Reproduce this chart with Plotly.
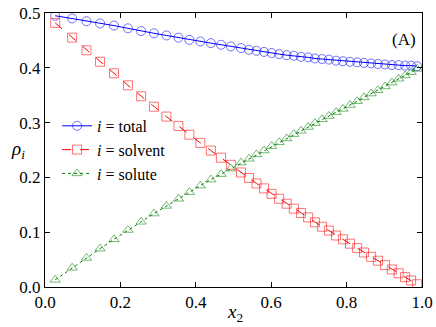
"""
density profiles vs solute fraction x2
"""
import plotly.graph_objs as go

x2 = [0.027, 0.072, 0.110, 0.146, 0.183, 0.220, 0.255, 0.289, 0.322, 0.354,
      0.383, 0.412, 0.440, 0.467, 0.493, 0.520, 0.541, 0.561, 0.581, 0.601,
      0.621, 0.641, 0.660, 0.679, 0.698, 0.716, 0.735, 0.753, 0.772, 0.790,
      0.809, 0.828, 0.846, 0.865, 0.883, 0.902, 0.920, 0.938, 0.955, 0.971,
      0.987]

rho_total = [0.495, 0.490, 0.485, 0.481, 0.477, 0.472, 0.467, 0.463, 0.459, 0.455,
             0.451, 0.448, 0.445, 0.442, 0.439, 0.436, 0.433, 0.431, 0.429, 0.427,
             0.425, 0.423, 0.422, 0.420, 0.419, 0.417, 0.416, 0.415, 0.413, 0.412,
             0.411, 0.410, 0.409, 0.408, 0.407, 0.406, 0.405, 0.405, 0.404, 0.404,
             0.403]

rho_solvent = [0.482, 0.455, 0.432, 0.411, 0.390, 0.368, 0.348, 0.329, 0.311, 0.294,
               0.278, 0.263, 0.249, 0.236, 0.223, 0.209, 0.199, 0.189, 0.180, 0.170,
               0.161, 0.152, 0.143, 0.135, 0.127, 0.118, 0.110, 0.103, 0.094, 0.087,
               0.079, 0.071, 0.063, 0.055, 0.048, 0.040, 0.032, 0.025, 0.018, 0.012,
               0.005]

rho_solute = [0.013, 0.035, 0.053, 0.070, 0.087, 0.104, 0.119, 0.134, 0.148, 0.161,
              0.173, 0.185, 0.196, 0.206, 0.216, 0.227, 0.234, 0.242, 0.249, 0.257,
              0.264, 0.271, 0.279, 0.285, 0.292, 0.299, 0.306, 0.312, 0.319, 0.325,
              0.332, 0.339, 0.346, 0.353, 0.359, 0.366, 0.373, 0.380, 0.386, 0.392,
              0.398]

x_ticks = [0.0, 0.2, 0.4, 0.6, 0.8, 1.0]
y_ticks = [0.0, 0.1, 0.2, 0.3, 0.4, 0.5]

SERIF = "Liberation Serif"

series = [
    ("<i>i</i> = total", rho_total, "#0000ff", "rgba(0,0,255,0.55)", "solid", "circle-open"),
    ("<i>i</i> = solvent", rho_solvent, "#ff0000", "rgba(255,0,0,0.55)", "dash", "square-open"),
    ("<i>i</i> = solute", rho_solute, "#008000", "rgba(0,128,0,0.55)", "dot", "triangle-up-open"),
]

fig = go.Figure()
for name, y, color, mcolor, dash, symbol in series:
    fig.add_trace(go.Scatter(
        x=x2, y=y, name=name,
        mode='lines+markers',
        line=dict(color=color, width=1, dash=dash),
        marker=dict(symbol=symbol, size=9, color=mcolor, line=dict(width=1, color=mcolor)),
    ))

axis_style = dict(
    showgrid=False, zeroline=False, automargin=False,
    showline=True, linecolor='black', linewidth=1, mirror='ticks',
    ticks='inside', ticklen=5, tickcolor='black',
    tickfont=dict(family=SERIF, size=17, color='black'),
)
fig.update_xaxes(range=[0, 1], tickvals=x_ticks, ticktext=[f"{t:.1f}" for t in x_ticks], **axis_style)
fig.update_yaxes(range=[0, 0.5], tickvals=y_ticks, ticktext=[f"{t:.1f}" for t in y_ticks], **axis_style)

fig.add_annotation(text="<i>ρ<sub>i</sub></i>", xref='paper', yref='paper', x=-0.095, y=0.5,
                   showarrow=False, font=dict(family=SERIF, size=19, color='black'))
fig.add_annotation(text="<i>x</i><sub>2</sub>", xref='paper', yref='paper', x=0.505, y=-0.095,
                   yanchor='middle', showarrow=False, font=dict(family=SERIF, size=19, color='black'))
fig.add_annotation(text="(A)", xref='paper', yref='paper', x=0.99, y=0.945,
                   showarrow=False, font=dict(family=SERIF, size=17, color='black'))

fig.update_layout(
    width=436, height=327,
    margin=dict(l=45, r=14, t=13, b=40),
    font=dict(family=SERIF, color='black'),
    paper_bgcolor='white', plot_bgcolor='white',
    legend=dict(x=0.032, y=0.65, xanchor='left', yanchor='top',
                bgcolor='rgba(0,0,0,0)', borderwidth=0,
                font=dict(family=SERIF, size=16, color='black')),
)

# page body has a default margin, drop it so the figure sits at the corner
fig.write_html("out.html", config={'displayModeBar': False},
               post_script="document.body.style.margin='0px';")
